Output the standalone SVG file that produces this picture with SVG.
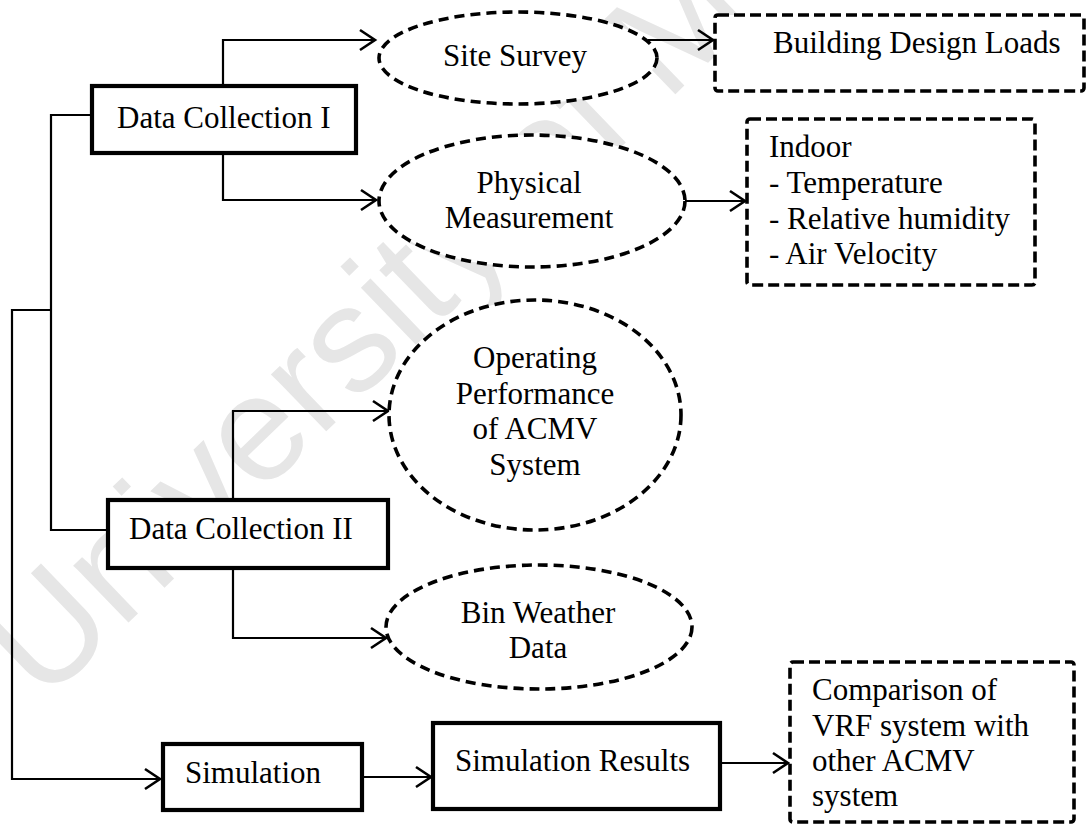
<svg xmlns="http://www.w3.org/2000/svg" width="1088" height="825" viewBox="0 0 1088 825">
  <style>
    .lbl { font-family: "Liberation Serif", "Times New Roman", serif; font-size: 31px; fill: #000; }
    .mid { text-anchor: middle; }
    .solid { fill: #fff; stroke: #000; stroke-width: 4.2; }
    .dashbox { fill: #fff; stroke: #000; stroke-width: 3.6; stroke-dasharray: 11 5; }
    .dashell { fill: #fff; stroke: #000; stroke-width: 3.6; stroke-dasharray: 10 6; }
    .wire { fill: none; stroke: #000; stroke-width: 2.2; }
    .mark { font-family: "Liberation Sans", Arial, sans-serif; font-size: 150px; fill: #e6e6e6; }
  </style>
  <defs>
    <marker id="chev" markerUnits="userSpaceOnUse" markerWidth="24" markerHeight="26" viewBox="-18 -13 20 26" refX="0" refY="0" orient="auto">
      <path d="M-15,-10 L0,0 L-15,10" fill="none" stroke="#000" stroke-width="2.6"/>
    </marker>
  </defs>

  <rect width="1088" height="825" fill="#fff"/>

  <!-- background watermark -->
  <text class="mark" x="43" y="705" transform="rotate(-44 43 705)">University of M</text>

  <!-- connectors -->
  <g id="connectors">
    <path class="wire" d="M223,86 V40 H375" marker-end="url(#chev)"/>
    <path class="wire" d="M223,153 V200 H376" marker-end="url(#chev)"/>
    <path class="wire" d="M92,115 H51 V530 H108"/>
    <path class="wire" d="M51,310 H12 V779 H160" marker-end="url(#chev)"/>
    <path class="wire" d="M233,500 V411 H388" marker-end="url(#chev)"/>
    <path class="wire" d="M233,568 V638 H386" marker-end="url(#chev)"/>
    <path class="wire" d="M648,40 H713" marker-end="url(#chev)"/>
    <path class="wire" d="M685,201 H745" marker-end="url(#chev)"/>
    <path class="wire" d="M362,777 H431" marker-end="url(#chev)"/>
    <path class="wire" d="M720,763 H788" marker-end="url(#chev)"/>
  </g>

  <g id="data-collection-1">
    <rect class="solid" x="92" y="86" width="264" height="67"/>
    <text class="lbl" x="117" y="128">Data Collection I</text>
  </g>

  <g id="site-survey">
    <ellipse class="dashell" cx="518" cy="58" rx="139" ry="46"/>
    <text class="lbl mid" x="515" y="66">Site Survey</text>
  </g>

  <g id="building-design-loads">
    <rect class="dashbox" x="715" y="15" width="369" height="76" rx="3"/>
    <text class="lbl" x="773" y="53">Building Design Loads</text>
  </g>

  <g id="physical-measurement">
    <ellipse class="dashell" cx="532" cy="201" rx="153" ry="66"/>
    <text class="lbl mid" x="529" y="193">Physical</text>
    <text class="lbl mid" x="529" y="228">Measurement</text>
  </g>

  <g id="indoor">
    <rect class="dashbox" x="747" y="119" width="288" height="166" rx="3"/>
    <text class="lbl" x="769" y="157">Indoor</text>
    <text class="lbl" x="769" y="193">- Temperature</text>
    <text class="lbl" x="769" y="229">- Relative humidity</text>
    <text class="lbl" x="769" y="264">- Air Velocity</text>
  </g>

  <g id="operating-performance">
    <ellipse class="dashell" cx="535" cy="415" rx="146" ry="115"/>
    <text class="lbl mid" x="535" y="368">Operating</text>
    <text class="lbl mid" x="535" y="404">Performance</text>
    <text class="lbl mid" x="535" y="439">of ACMV</text>
    <text class="lbl mid" x="535" y="475">System</text>
  </g>

  <g id="data-collection-2">
    <rect class="solid" x="108" y="500" width="280" height="68"/>
    <text class="lbl" x="129" y="539">Data Collection II</text>
  </g>

  <g id="bin-weather-data">
    <ellipse class="dashell" cx="539" cy="627" rx="153" ry="62"/>
    <text class="lbl mid" x="538" y="623">Bin Weather</text>
    <text class="lbl mid" x="538" y="658">Data</text>
  </g>

  <g id="simulation">
    <rect class="solid" x="163" y="744" width="199" height="66"/>
    <text class="lbl" x="185" y="783">Simulation</text>
  </g>

  <g id="simulation-results">
    <rect class="solid" x="433" y="723" width="287" height="86"/>
    <text class="lbl" x="455" y="771">Simulation Results</text>
  </g>

  <g id="comparison">
    <rect class="dashbox" x="790" y="662" width="284" height="160" rx="3"/>
    <text class="lbl" x="812" y="700">Comparison of</text>
    <text class="lbl" x="812" y="736">VRF system with</text>
    <text class="lbl" x="812" y="771">other ACMV</text>
    <text class="lbl" x="812" y="806">system</text>
  </g>
</svg>
